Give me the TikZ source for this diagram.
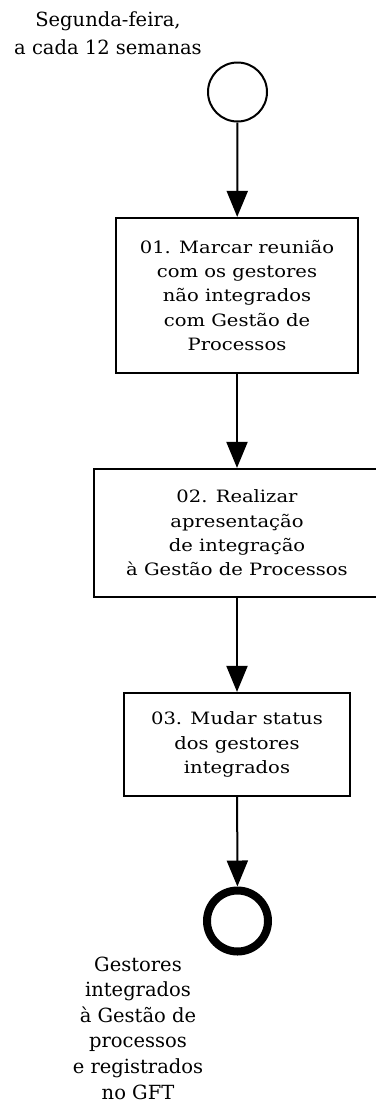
\documentclass[tikz,border=0pt]{standalone}
\usepackage{fontspec}
\setmainfont{DejaVu Serif}
\newfontfamily\boxfont[FakeStretch=1.15]{DejaVu Serif}
\usetikzlibrary{arrows.meta}
\begin{document}
\begin{tikzpicture}[x=1pt,y=-1pt,
  lbl/.style={align=center, inner sep=0pt},
  task/.style={draw, line width=2.2pt, align=center, inner sep=0pt,
    font=\boxfont\fontsize{17}{24.3}\selectfont},
  flow/.style={line width=2pt, -{Triangle[width=21pt,length=26pt]}},
]
\useasboundingbox (0,0) rectangle (375,1106);
\node[lbl, font=\fontsize{19.5}{28}\selectfont] (startlbl) at (108,33) {Segunda-feira,\\a cada 12 semanas};
\node[draw, circle, line width=2pt, minimum size=59pt, inner sep=0pt] (start) at (237.5,92) {};
\node[task, minimum width=242pt, minimum height=155pt] (t1) at (237,295.5) {01. Marcar reunião\\com os gestores\\não integrados\\com Gestão de\\Processos};
\node[task, minimum width=286pt, minimum height=128pt] (t2) at (237,533) {02. Realizar\\apresentação\\de integração\\à Gestão de Processos};
\node[task, minimum width=226pt, minimum height=103pt] (t3) at (237,744.5) {03. Mudar status\\dos gestores\\integrados};
\node[draw, circle, line width=8pt, minimum size=61pt, inner sep=0pt] (end) at (237.5,921) {};
\node[lbl, font=\fontsize{19.5}{25.6}\selectfont] (endlbl) at (138,1028) {Gestores\\integrados\\à Gestão de\\processos\\e registrados\\no GFT};
\draw[flow] (start) -- (t1);
\draw[flow] (t1) -- (t2);
\draw[flow] (t2) -- (t3);
\draw[flow] (t3) -- (end);
\end{tikzpicture}
\end{document}
